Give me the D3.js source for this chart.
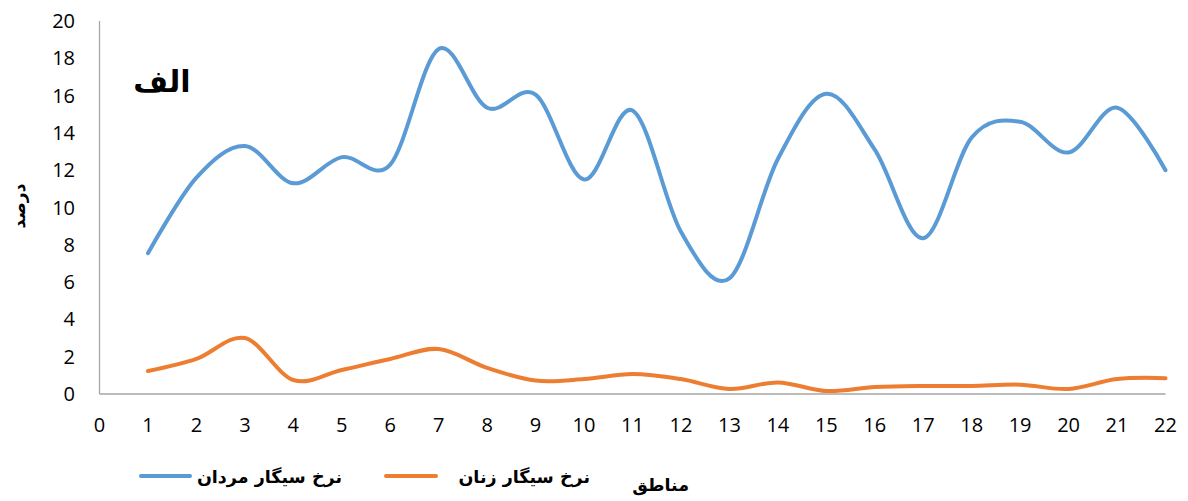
<!DOCTYPE html>
<html>
<head>
<meta charset="utf-8">
<script src="https://cdn.jsdelivr.net/npm/d3@7"></script>
<style>
  body { margin: 0; background: #fff; }
</style>
</head>
<body>
<script>
// regions 1..22
var regions = d3.range(1, 23);
// men smoking rate
var men = [7.55, 11.6, 13.3, 11.3, 12.7, 12.3, 18.5, 15.35, 16.05, 11.5, 15.2, 8.7,
           6.2, 12.6, 16.1, 13.1, 8.35, 13.75, 14.6, 12.95, 15.35, 12.0];
// women smoking rate
var women = [1.23, 1.88, 3.0, 0.75, 1.29, 1.88, 2.41, 1.4, 0.72, 0.8, 1.07, 0.8,
             0.27, 0.62, 0.16, 0.37, 0.43, 0.43, 0.5, 0.27, 0.8, 0.85];
var yTicks = d3.range(0, 21, 2);
var xTicks = d3.range(0, 23, 1);

var labelMen = "نرخ سیگار مردان";
var labelWomen = "نرخ سیگار زنان";
var labelX = "مناطق";
var labelY = "درصد";
var title = "الف";

var width = 1188, height = 501;
var svg = d3.select("body").append("svg")
    .attr("width", width)
    .attr("height", height);

var x = d3.scaleLinear().domain([0, 22]).range([99.5, 1165.5]);
var y = d3.scaleLinear().domain([0, 20]).range([394, 21]);

var tickFont = "'Open Sans', 'DejaVu Sans', sans-serif";
var faFont = "'DejaVu Sans', sans-serif";

// axes lines
svg.append("line")
    .attr("x1", x(0)).attr("x2", x(0))
    .attr("y1", y(20)).attr("y2", y(0))
    .style("stroke", "#a6a6a6").style("stroke-width", 1.3);
svg.append("line")
    .attr("x1", x(0)).attr("x2", x(22))
    .attr("y1", y(0)).attr("y2", y(0))
    .style("stroke", "#a6a6a6").style("stroke-width", 1.3);

// y tick labels
svg.selectAll(".ytick").data(yTicks).enter().append("text")
    .attr("class", "ytick")
    .attr("x", 75)
    .attr("y", function (d) { return y(d) + 7; })
    .attr("text-anchor", "end")
    .attr("font-family", tickFont)
    .attr("font-size", 20)
    .text(function (d) { return d; });

// x tick labels
svg.selectAll(".xtick").data(xTicks).enter().append("text")
    .attr("class", "xtick")
    .attr("x", function (d) { return x(d); })
    .attr("y", 432)
    .attr("text-anchor", "middle")
    .attr("font-family", tickFont)
    .attr("font-size", 20)
    .text(function (d) { return d; });

var line = d3.line()
    .x(function (d, i) { return x(regions[i]); })
    .y(function (d) { return y(d); })
    .curve(d3.curveCardinal.tension(0));

svg.append("path").datum(men)
    .attr("d", line)
    .attr("fill", "none")
    .attr("stroke", "#5b9bd5")
    .attr("stroke-width", 4)
    .attr("stroke-linecap", "round");

svg.append("path").datum(women)
    .attr("d", line)
    .attr("fill", "none")
    .attr("stroke", "#ed7d31")
    .attr("stroke-width", 4)
    .attr("stroke-linecap", "round");

// title
svg.append("text")
    .attr("x", 162).attr("y", 92)
    .attr("text-anchor", "middle")
    .attr("font-family", faFont)
    .attr("font-weight", "bold")
    .attr("font-size", 30)
    .text(title);

// y label
svg.append("text")
    .attr("transform", "translate(25,206) rotate(-90)")
    .attr("text-anchor", "middle")
    .attr("font-family", faFont)
    .attr("font-weight", "bold")
    .attr("font-size", 17)
    .text(labelY);

// legend
var legend = [
    { label: labelMen, color: "#5b9bd5", x1: 141, x2: 190, tx: 342 },
    { label: labelWomen, color: "#ed7d31", x1: 386, x2: 436, tx: 590 }
];
legend.forEach(function (l) {
    svg.append("line")
        .attr("x1", l.x1).attr("x2", l.x2)
        .attr("y1", 476).attr("y2", 476)
        .attr("stroke", l.color).attr("stroke-width", 4)
        .attr("stroke-linecap", "round");
    svg.append("text")
        .attr("x", l.tx).attr("y", 483)
        .attr("text-anchor", "end")
        .attr("font-family", faFont)
        .attr("font-weight", "bold")
        .attr("font-size", 17.5)
        .text(l.label);
});

svg.append("text")
    .attr("x", 689).attr("y", 491)
    .attr("text-anchor", "end")
    .attr("font-family", faFont)
    .attr("font-weight", "bold")
    .attr("font-size", 17.5)
    .text(labelX);
</script>
</body>
</html>
